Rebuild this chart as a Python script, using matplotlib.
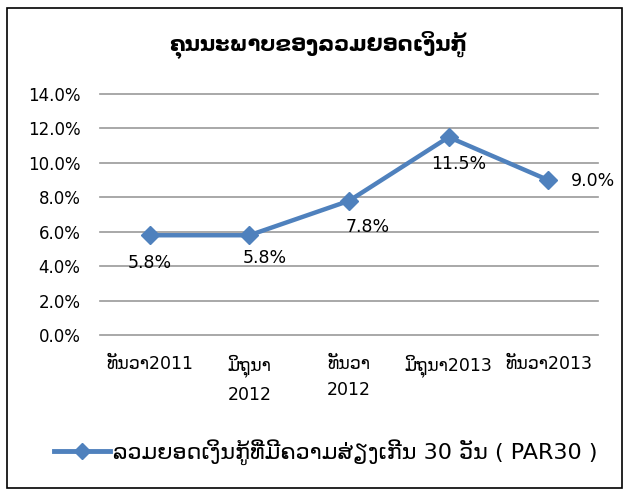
import matplotlib.pyplot as plt
from matplotlib.patches import Rectangle
from matplotlib.lines import Line2D

plt.rcParams['font.family'] = ['DejaVu Sans']

title = 'ຄຸນນະພາບຂອງລວມຍອດເງິນກູ້'
categories = ['ທັນວາ2011', 'ມິຖຸນາ\n2012', 'ທັນວາ\n2012', 'ມິຖຸນາ2013', 'ທັນວາ2013']
par30 = [5.8, 5.8, 7.8, 11.5, 9.0]
series_name = 'ລວມຍອດເງິນກູ້ທີ່ມີຄວາມສ່ຽງເກີນ 30 ວັນ ( PAR30 )'
yticks = [0, 2, 4, 6, 8, 10, 12, 14]

# label offsets in pixels
label_offsets = [(0, -28), (15, -23), (19, -26), (10, -27), (45, -1)]

blue = '#4F81BD'

fig = plt.figure(figsize=(6.29, 4.95), dpi=100)
ax = fig.add_axes([0.159, 0.323, 0.792, 0.487])

x = range(len(categories))
ax.plot(x, par30, color=blue, lw=3.2, marker='D', markersize=9,
        markerfacecolor=blue, markeredgecolor=blue, zorder=3)

for i, v in enumerate(par30):
    ax.annotate(f'{v:.1f}%', (i, v), xytext=label_offsets[i],
                textcoords='offset pixels', ha='center', va='center',
                fontsize=12.5)

ax.set_xlim(-0.5, len(categories) - 0.5)
ax.set_ylim(0, 14)
ax.set_yticks(yticks)
ax.set_yticklabels([f'{t:.1f}%' for t in yticks], fontsize=12)
ax.set_xticks(list(x))
ax.set_xticklabels(categories, fontsize=12.5, linespacing=1.6, va='top')
ax.tick_params(axis='y', length=0, pad=14)
ax.tick_params(axis='x', length=0, pad=14)
ax.grid(axis='y', color='#999999', lw=1.2)
for gl in ax.get_ygridlines():
    gl.set_clip_on(False)
ax.set_axisbelow(True)
for s in ax.spines.values():
    s.set_visible(False)

fig.text(0.506, 0.909, title, ha='center', va='center', fontsize=15,
         fontweight='bold')

handle = Line2D([], [], color=blue, lw=3.5, marker='D', markersize=8,
                markerfacecolor=blue)
fig.legend([handle], [series_name], loc='center', bbox_to_anchor=(0.518, 0.087),
           frameon=False, fontsize=16, handlelength=2.5, handletextpad=0.12)

fig.add_artist(Rectangle((0.011, 0.014), 0.978, 0.970, transform=fig.transFigure,
                         fill=False, edgecolor='black', lw=1.2))

fig.savefig('out.png', dpi=100)
